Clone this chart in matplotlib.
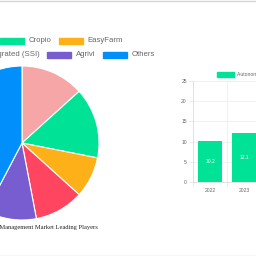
import matplotlib
matplotlib.use("Agg")
import matplotlib.pyplot as plt
from matplotlib.patches import Rectangle
from matplotlib.lines import Line2D

# Данные: доли игроков (круговая диаграмма)
players = ["Trimble", "Cropio", "EasyFarm",
           "Software Solutions Integrated (SSI)", "Agrivi", "Others"]
shares = [13.3, 14.8, 8.6, 10.3, 10.7, 42.3]
pie_colors = ["#f7a6a8", "#00e396", "#feb019", "#ff4560", "#775dd0", "#008ffb"]

# Данные: размер рынка по годам (столбцы)
years = ["2022", "2023"]
market_size = [10.2, 12.1]
bar_label = "Autonomous Farm Equipment Market Size"
bar_color = "#00e396"

W = H = 256
fig = plt.figure(figsize=(2.56, 2.56), dpi=100)
fig.patch.set_facecolor("white")


def fx(x):
    return x / W


def fy(y):
    return 1 - y / H


# Рамки страницы сверху и снизу
for y in (0.5, 255.5):
    fig.add_artist(Line2D([0, 1], [fy(y), fy(y)], transform=fig.transFigure,
                          color="#d6d6d6", lw=1.0))

# Круговая диаграмма
cx, cy, r = 22, 143, 77
ax_pie = fig.add_axes([fx(cx - r), fy(cy + r), 2 * r / W, 2 * r / H])
ax_pie.pie(shares, colors=pie_colors, startangle=90, counterclock=False,
           wedgeprops=dict(edgecolor="white", linewidth=0.8))
ax_pie.set_xlim(-1, 1)
ax_pie.set_ylim(-1, 1)
ax_pie.set_aspect("auto")
ax_pie.axis("off")

# Легенда круговой диаграммы (как в Chart.js, строки)
renderer = fig.canvas.get_renderer()
leg_font = dict(fontsize=5.6, color="#666666", family="Liberation Sans")
box_w, box_h, gap_txt, gap_item = 24, 6, 5, 7


def text_width(s):
    t = fig.text(0, 0, s, **leg_font)
    w = t.get_window_extent(renderer).width
    t.remove()
    return w


def legend_row(idx, y, anchor_x):
    # элемент idx[1] начинается с anchor_x, idx[0] стоит перед ним
    first, rest = idx[0], idx[1:]
    tx = anchor_x - gap_item
    fig.text(fx(tx), fy(y), players[first], ha="right", va="center", **leg_font)
    bx = tx - text_width(players[first]) - gap_txt - box_w
    fig.add_artist(Rectangle((fx(bx), fy(y + box_h / 2)), box_w / W, box_h / H,
                             transform=fig.transFigure, color=pie_colors[first]))
    x = anchor_x
    for i in rest:
        fig.add_artist(Rectangle((fx(x), fy(y + box_h / 2)), box_w / W, box_h / H,
                                 transform=fig.transFigure, color=pie_colors[i]))
        x += box_w + gap_txt
        fig.text(fx(x), fy(y), players[i], ha="left", va="center", **leg_font)
        x += text_width(players[i]) + gap_item


legend_row([0, 1, 2], 41, 0)
legend_row([3, 4, 5], 55, 47)

fig.text(fx(98), fy(227), "Farm Management Market Leading Players",
         ha="right", va="center", fontsize=4.7, color="#222222",
         family="Liberation Serif")

# Столбчатая диаграмма
x0, y_zero, y_top = 193, 182, 81
ax_bar = fig.add_axes([fx(x0), fy(y_zero), 68 / W, (y_zero - y_top) / H])
pos = list(range(len(years)))
bars = ax_bar.bar(pos, market_size, width=0.72, color=bar_color, zorder=3)
ax_bar.bar_label(bars, labels=[f"{v}" for v in market_size], label_type="center",
                 color="white", fontsize=3.6, family="Liberation Sans")
ax_bar.set_xlim(-0.5, len(years) - 0.5)
ax_bar.set_ylim(0, 25)
ax_bar.set_yticks(range(0, 26, 5))
ax_bar.set_xticks(pos)
ax_bar.set_xticklabels(years)
ax_bar.set_xticks([p - 0.5 for p in pos] + [len(years) - 0.5], minor=True)
ax_bar.tick_params(axis="x", which="major", length=0, pad=4.5,
                   labelsize=3.6, labelcolor="#666666")
ax_bar.tick_params(axis="x", which="minor", length=3, width=0.5, color="#e3e3e3")
ax_bar.tick_params(axis="y", length=3, width=0.5, color="#e3e3e3", pad=1.5,
                   labelsize=3.6, labelcolor="#666666")
for lab in ax_bar.get_xticklabels() + ax_bar.get_yticklabels():
    lab.set_family("Liberation Sans")
ax_bar.grid(axis="y", color="#ececec", lw=0.5, zorder=0)
ax_bar.grid(axis="x", which="minor", color="#ececec", lw=0.5, zorder=0)
for side in ("top", "right"):
    ax_bar.spines[side].set_visible(False)
for side in ("left", "bottom"):
    ax_bar.spines[side].set_color("#dddddd")
    ax_bar.spines[side].set_linewidth(0.6)
ax_bar.set_facecolor("none")

# Легенда столбчатой диаграммы
fig.add_artist(Rectangle((fx(217), fy(77)), 17 / W, 5 / H,
                         transform=fig.transFigure, color=bar_color))
fig.text(fx(237), fy(74.5), bar_label, ha="left", va="center",
         fontsize=3.6, color="#666666", family="Liberation Sans")

fig.savefig("out.png", dpi=100)
